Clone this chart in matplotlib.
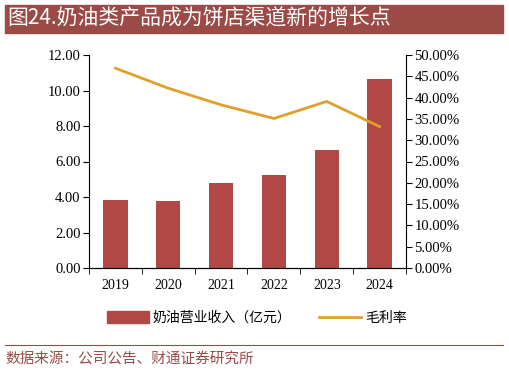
import numpy as np
import matplotlib
matplotlib.use('Agg')
import matplotlib.pyplot as plt
from matplotlib.patches import Rectangle
from matplotlib.lines import Line2D

plt.rcParams['font.family'] = ['Noto Sans CJK SC', 'DejaVu Sans']

# Data
years = ['2019', '2020', '2021', '2022', '2023', '2024']
revenue = [3.83, 3.77, 4.79, 5.24, 6.65, 10.65]      # 亿元
gross_margin = [46.9, 42.2, 38.3, 35.1, 39.1, 33.2]  # %

bar_color = '#B24846'
line_color = '#E0A02A'
brown = '#9B4A45'
serif = 'Liberation Serif'

fig = plt.figure(figsize=(5.09, 3.75), dpi=100)

# Title banner
fig.patches.append(Rectangle((5 / 509, 1 - 33 / 375), 498 / 509, 28 / 375,
                             transform=fig.transFigure, color=brown, zorder=0))
fig.text(7 / 509, 1 - 19 / 375, '图24.奶油类产品成为饼店渠道新的增长点', color='white',
         fontsize=15, va='center', ha='left')

ax = fig.add_axes([89 / 509, 1 - 268 / 375, 317 / 509, 213 / 375])
x = np.arange(len(years))
ax.bar(x, revenue, width=0.46, color=bar_color, zorder=2)
ax.set_xlim(-0.5, 5.5)
ax.set_ylim(0, 12)
ax.set_yticks(np.arange(0, 12.01, 2))
ax.set_yticklabels([f'{v:.2f}' for v in np.arange(0, 12.01, 2)], fontfamily=serif, fontsize=10.5)
ax.set_xticks(x)
ax.set_xticklabels(years, fontfamily=serif, fontsize=10)
ax.set_xticks(np.arange(-0.5, 5.6, 1), minor=True)
ax.tick_params(axis='x', which='major', length=0, pad=8)
ax.tick_params(axis='x', which='minor', length=4, direction='out')
ax.tick_params(axis='y', length=4, direction='out', pad=2)
ax.spines['top'].set_visible(False)
ax.spines['right'].set_visible(False)

ax2 = ax.twinx()
ax2.plot(x, gross_margin, color=line_color, linewidth=2, zorder=3)
ax2.set_ylim(0, 50)
ticks2 = np.arange(0, 50.01, 5)
ax2.set_yticks(ticks2)
ax2.set_yticklabels([f'{v:.2f}%' for v in ticks2], fontfamily=serif, fontsize=10.5)
ax2.tick_params(axis='y', length=4, direction='out', pad=2)
ax2.spines['top'].set_visible(False)
ax2.spines['left'].set_visible(False)
for a in (ax, ax2):
    for sp in a.spines.values():
        sp.set_linewidth(0.8)

handles = [Rectangle((0, 0), 1, 1, color=bar_color),
           Line2D([0], [0], color=line_color, linewidth=2)]
fig.legend(handles, ['奶油营业收入（亿元）', '毛利率'], loc='center',
           bbox_to_anchor=(257 / 509, 1 - 318 / 375), ncol=2, frameon=False,
           fontsize=10, handlelength=3.0, handleheight=0.9, columnspacing=2.0,
           handletextpad=0.3)

fig.add_artist(Line2D([5 / 509, 503 / 509], [1 - 345 / 375] * 2,
                      transform=fig.transFigure, color=brown, linewidth=0.8))
fig.text(5 / 509, 1 - 360 / 375, '数据来源：公司公告、财通证券研究所', color=brown,
         fontsize=10.5, va='center', ha='left')

fig.savefig('out.png', dpi=100)
